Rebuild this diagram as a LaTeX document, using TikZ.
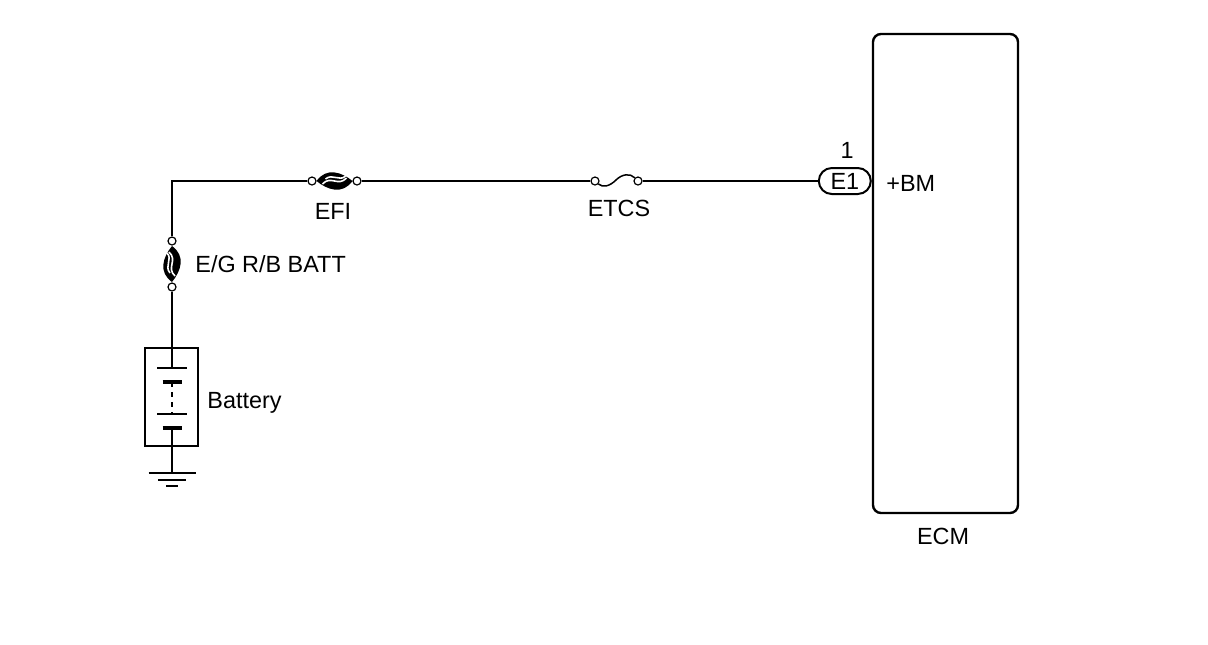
\documentclass[tikz,border=0pt]{standalone}
\usepackage{fontspec}
\setmainfont{Liberation Sans}
\tikzset{
  wire/.style={line width=0.75pt},
  term/.style={circle,draw,fill=white,line width=0.6pt,inner sep=0pt,minimum size=4pt},
  lbl/.style={font=\fontsize{11.7}{13}\selectfont,inner sep=0pt},
  plate/.style={line width=0.6pt},
  cell/.style={line width=1.6pt}
}
\begin{document}
\begin{tikzpicture}[x=0.5pt,y=-0.5pt]
\useasboundingbox (0,0) rectangle (1208,644);

% ECM and its connector
\node[draw,line width=1.2pt,rounded corners=4pt,minimum width=72.5pt,minimum height=239.5pt] (ecm) at (945.5,273.5) {};
\node[lbl] (ecmlbl) at (943,536) {ECM};
\node[draw,line width=1pt,rounded corners=6.5pt,minimum width=26pt,minimum height=13pt,inner sep=0pt,anchor=east,lbl] (e1) at (ecm.west |- 0,181) {E1};
\node[lbl] (pin) at (847,150) {1};
\node[lbl,anchor=west] (bm) at (886,183) {+BM};

% terminals of the fuses
\node[term] (efiL) at (312,181) {};
\node[term] (efiR) at (357,181) {};
\node[term] (etcsL) at (595,181) {};
\node[term] (etcsR) at (638,181) {};
\node[term] (egT) at (172,241) {};
\node[term] (egB) at (172,287) {};
\coordinate (corner) at (172,181);

\node[lbl] (efilbl) at (333,211) {EFI};
\node[lbl] (etcslbl) at (619,208) {ETCS};
\node[lbl,anchor=west] (eglbl) at (195,264) {E/G R/B BATT};

% wires
\draw[wire] (egT) -- (corner) -- (efiL);
\draw[wire] (efiR) -- (etcsL);
\draw[wire] (etcsR) -- (e1);

% fusible links
\begin{scope}[shift={(334.5,181)}]
\fill (-18,0) .. controls (-8,-14) and (7,-9) .. (18,0) .. controls (8,14) and (-7,9) .. cycle;
\draw[white,line width=0.8pt] (-12,3) .. controls (-4,-6) and (4,6) .. (12,-3);
\draw[white,line width=0.8pt] (-9,-2) .. controls (-2,-8) and (5,1) .. (11,-5);
\end{scope}
\begin{scope}[shift={(172,264)},rotate=90]
\fill (-18,0) .. controls (-8,-14) and (7,-9) .. (18,0) .. controls (8,14) and (-7,9) .. cycle;
\draw[white,line width=0.8pt] (-12,3) .. controls (-4,-6) and (4,6) .. (12,-3);
\draw[white,line width=0.8pt] (-9,-2) .. controls (-2,-8) and (5,1) .. (11,-5);
\end{scope}
\draw[wire] (etcsL) .. controls (603,188) and (610,186) .. (616,180) .. controls (622,174) and (630,173) .. (etcsR);

% battery
\node[draw,line width=1.1pt,minimum width=26.5pt,minimum height=49pt,inner sep=0pt] (bat) at (171.5,397) {};
\node[lbl,anchor=west] (batlbl) at (207,403) {Battery};
\coordinate (p1) at (172,368);
\coordinate (p2) at (172,382);
\coordinate (p3) at (172,414);
\coordinate (p4) at (172,428);
\coordinate (gnd) at (172,473);
\draw[wire] (egB) -- (p1);
\draw[plate] ([xshift=-7.5pt]p1) -- ([xshift=7.5pt]p1);
\draw[cell] ([xshift=-4.75pt]p2) -- ([xshift=4.75pt]p2);
\draw[plate] ([xshift=-7.5pt]p3) -- ([xshift=7.5pt]p3);
\draw[cell] ([xshift=-4.75pt]p4) -- ([xshift=4.75pt]p4);
\draw[wire,dash pattern=on 2.5pt off 2.5pt] (p2) -- (p3);
\draw[wire] (p4) -- (gnd);

% ground
\draw[line width=1pt] ([xshift=-11.75pt]gnd) -- ([xshift=11.75pt]gnd);
\draw[line width=0.6pt] ([xshift=-7pt,yshift=-3.5pt]gnd) -- ([xshift=7pt,yshift=-3.5pt]gnd);
\draw[line width=0.9pt] ([xshift=-3pt,yshift=-6.5pt]gnd) -- ([xshift=3pt,yshift=-6.5pt]gnd);
\end{tikzpicture}
\end{document}
